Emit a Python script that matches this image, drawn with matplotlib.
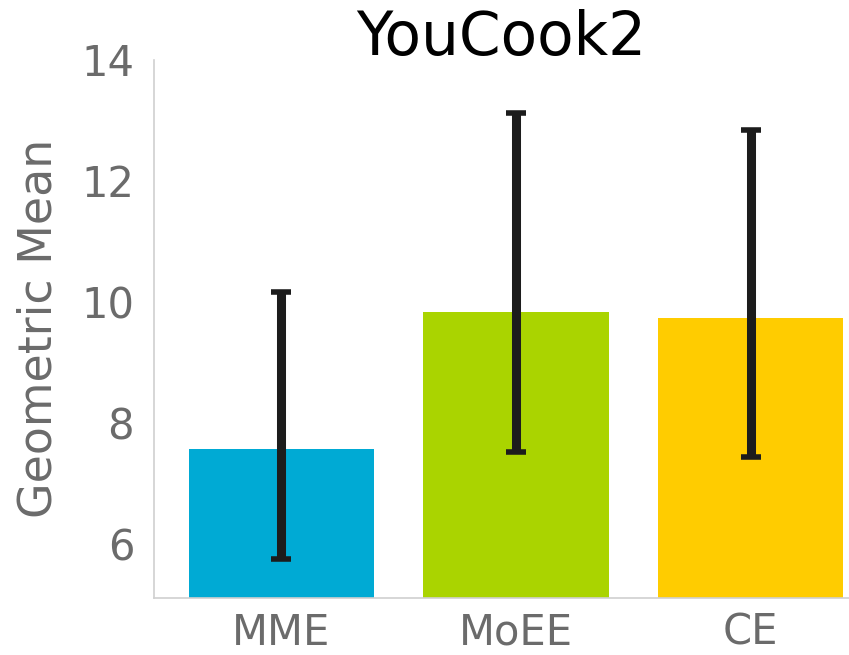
import numpy as np
import matplotlib
matplotlib.use("Agg")
import matplotlib.pyplot as plt

# geometric mean per model with lower / upper bounds
models = ["MME", "MoEE", "CE"]
geo_mean = [7.56, 9.82, 9.73]
lower = [5.75, 7.51, 7.43]
upper = [10.16, 13.12, 12.84]
colors = ["#00aad4", "#aad400", "#ffcc00"]

fig = plt.figure(figsize=(8.49, 6.55), dpi=100)
ax = fig.add_axes([0.181, 0.087, 0.819, 0.822])

x = np.arange(len(models))
yerr = [np.array(geo_mean) - np.array(lower), np.array(upper) - np.array(geo_mean)]
ax.bar(x, geo_mean, width=0.79, color=colors)
ax.errorbar(x, geo_mean, yerr=yerr, fmt="none", ecolor="#1c1c1c",
            elinewidth=6.5, capsize=7.5, capthick=4)

ax.set_xlim(-0.545, 2.42)
ax.set_ylim(5.1, 14)
ax.set_yticks([6, 8, 10, 12, 14])
ax.set_xticks(x)
ax.set_xticklabels(models)

for side in ["top", "right"]:
    ax.spines[side].set_visible(False)
for side in ["left", "bottom"]:
    ax.spines[side].set_color("#d0d0d0")
    ax.spines[side].set_linewidth(1.2)
ax.tick_params(axis="y", length=0, labelsize=30, colors="#6b6b6b", pad=14)
ax.tick_params(axis="x", length=0, labelsize=30, colors="#6b6b6b", pad=10)
ax.set_ylabel("Geometric Mean", fontsize=33, color="#6b6b6b", labelpad=14)
ax.set_title("YouCook2", fontsize=43, color="black", y=1.008, pad=0)

fig.savefig("out.png", dpi=100)
